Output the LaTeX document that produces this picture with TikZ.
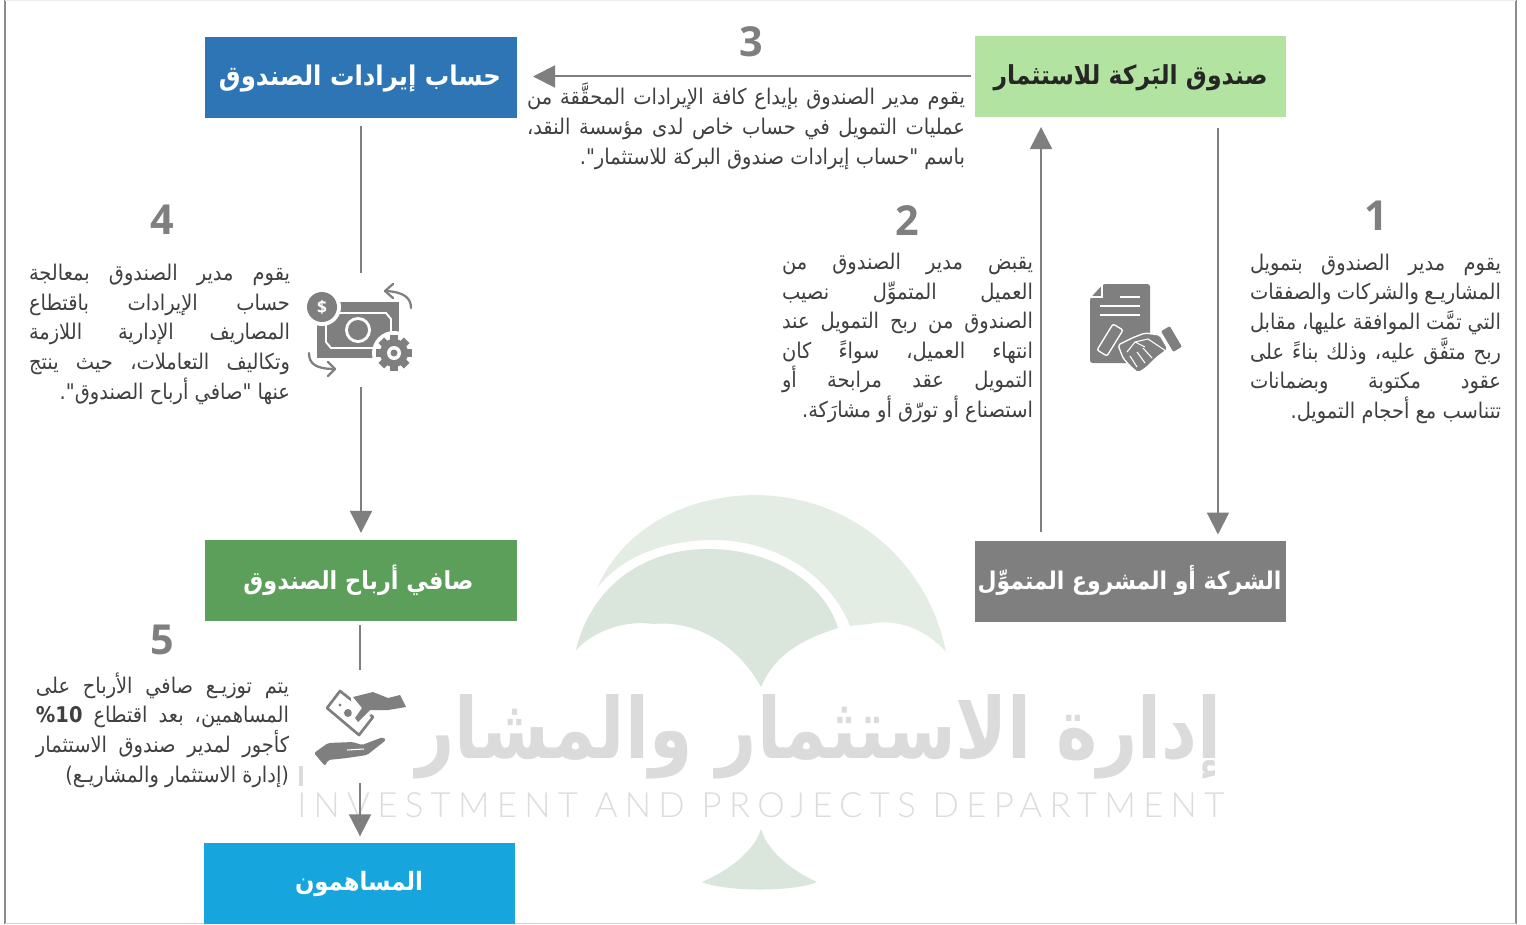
\documentclass[tikz,border=0pt]{standalone}
\usepackage{fontspec}
\usepackage{graphicx}
\usetikzlibrary{arrows.meta}
\TeXXeTstate=1
\newfontfamily\arf[Script=Arabic,FakeStretch=0.9]{DejaVu Sans}
\newfontfamily\numf{Open Sans}
\newfontfamily\enf[LetterSpace=21,UprightFont=* Light]{Lato}
\newlength\pxu \pxu=0.75pt
\definecolor{arrowgrey}{HTML}{7F7F7F}
\definecolor{bodytext}{HTML}{404040}
\definecolor{fundgreen}{HTML}{B3E3A1}
\definecolor{revblue}{HTML}{2E75B6}
\definecolor{netgreen}{HTML}{5B9F5B}
\definecolor{holdercyan}{HTML}{17A5DE}
\definecolor{leaflight}{HTML}{E3EDE3}
\definecolor{leafdark}{HTML}{DAE6DB}
\definecolor{markgrey}{HTML}{DBDBDB}
\definecolor{markthin}{HTML}{DCDCDC}
\definecolor{framegrey}{HTML}{8C8C8C}
\tikzset{
  flowbox/.style={minimum width=311*0.75pt,minimum height=81*0.75pt,inner sep=0pt,outer sep=0pt},
  boxtitle/.style={inner sep=0pt,outer sep=0pt,text=white},
  conn/.style={draw=arrowgrey,line width=1.5pt},
  arr/.style={conn,-{Triangle[length=16.5pt,width=16.5pt]}},
  txt/.style={text=bodytext,inner sep=0pt,outer sep=0pt,anchor=base east,font=\fontsize{16.2}{18}\selectfont},
  stepnum/.style={text=arrowgrey,inner sep=0pt,font=\numf\bfseries\fontsize{31}{32}\selectfont},
  holder/.style={inner sep=0pt,outer sep=0pt,minimum width=#1*0.75pt},
  handfill/.style={fill=arrowgrey,draw=white,line width=1pt,line join=round,rounded corners=1.5pt},
}
\newcommand{\jl}[5]{\node[txt] (#1) at (#2,#3) {\hbox to #4\pxu{\arf #5}};}
\newcommand{\rl}[4]{\node[txt] (#1) at (#2,#3) {\hbox{\arf #4}};}
\newcommand{\ttl}[2]{\resizebox{#1\pxu}{!}{\hbox{\arf\bfseries #2}}}
\begin{document}
\begin{tikzpicture}[x=0.75pt,y=-0.75pt]
\useasboundingbox (0,0) rectangle (1526,924);
\fill[white] (0,0) rectangle (1526,924);
% frame
\draw[framegrey,line width=1.1pt] (5,0) -- (5,924);
\draw[framegrey,line width=1.1pt] (1516,0) -- (1516,924);
\draw[gray!35,line width=0.8pt] (5,923.3) -- (1516,923.3);
\draw[gray!15,line width=0.6pt] (5,0.4) -- (1516,0.4);
% watermark tree
\fill[leaflight] (597,588) .. controls (625,525) and (690,495) .. (757,495)
  .. controls (860,497) and (930,570) .. (946,652)
  .. controls (925,628) and (895,618) .. (869,624)
  .. controls (860,625) and (855,625) .. (850,626)
  .. controls (830,575) and (775,540) .. (714,540)
  .. controls (670,540) and (625,553) .. (597,588) -- cycle;
\fill[leafdark] (576,650) .. controls (590,590) and (640,549) .. (708,549)
  .. controls (775,549) and (825,585) .. (838,628)
  .. controls (800,640) and (775,655) .. (761,687)
  .. controls (735,640) and (690,620) .. (654,624)
  .. controls (625,620) and (595,630) .. (576,650) -- cycle;
\fill[leafdark] (761,829) .. controls (755,850) and (730,870) .. (702,882)
  .. controls (725,892) and (795,892) .. (817,882)
  .. controls (790,870) and (767,850) .. (761,829) -- cycle;
\node[inner sep=0pt,text=markgrey] (markar) at (818,737) {\resizebox{807\pxu}{64\pxu}{\hbox{\arf\bfseries\beginR إدارة الاستثمار والمشار\endR}}};
\node[inner sep=0pt,text=markthin,anchor=base west] (marken) at (297,817) {\resizebox{927\pxu}{!}{\enf\fontsize{25}{26}\selectfont INVESTMENT AND PROJECTS DEPARTMENT}};
\fill[white] (303,688) rectangle (413,788);
\fill[markgrey] (299,766) rectangle (303,786);
% boxes
\node[flowbox,fill=fundgreen] (fund) at (1130.5,76.5) {};
\node[flowbox,fill=revblue,minimum width=312*0.75pt] (rev) at (361,77.5) {};
\node[flowbox,fill=netgreen,minimum width=312*0.75pt] (net) at (361,580) {};
\node[flowbox,fill=arrowgrey] (proj) at (1130.5,581) {};
\node[flowbox,fill=holdercyan] (holders) at (359.5,883.5) {};
\node[boxtitle,text=black!85] (fundt) at (1130.5,78) {\ttl{274}{\beginR صندوق البَركة للاستثمار\endR}};
\node[boxtitle] (revt) at (360,78.5) {\ttl{282}{\beginR حساب إيرادات الصندوق\endR}};
\node[boxtitle] (nett) at (358.5,580) {\ttl{230}{\beginR صافي أرباح الصندوق\endR}};
\node[boxtitle] (projt) at (1129.5,580) {\ttl{304}{\beginR الشركة أو المشروع المتموِّل\endR}};
\node[boxtitle] (holderst) at (359,884) {\ttl{128}{\beginR المساهمون\endR}};
% invisible holders for the icons
\node[holder=10,minimum height=114*0.75pt] (moneyicon) at (361,330) {};
\node[holder=10,minimum height=113*0.75pt] (handicon) at (360,726.5) {};
% connectors
\draw[arr,shorten <=3pt,shorten >=12pt] (fund.west) -- (fund.west -| rev.east);
\draw[arr,shorten <=8pt,shorten >=4.5pt] ([xshift=65.6pt]fund.south) -- ([xshift=65.6pt]proj.north);
\draw[arr,shorten <=6.5pt,shorten >=7.5pt] ([xshift=-67.1pt]proj.north) -- ([xshift=-67.1pt]fund.south);
\draw[conn,shorten <=6pt] (rev.south) -- (moneyicon.north);
\draw[arr,shorten >=5pt] (moneyicon.south) -- (net.north);
\draw[conn,shorten <=3.5pt] ([xshift=-0.75pt]net.south) -- (handicon.north);
\draw[arr,shorten >=5pt] (handicon.south) -- ([xshift=0.375pt]holders.north);
% step numbers
\node[stepnum] (n1) at (1376,216) {1};
\node[stepnum] (n2) at (907,221) {2};
\node[stepnum] (n3) at (751,42) {3};
\node[stepnum] (n4) at (162,220) {4};
\node[stepnum] (n5) at (162,640) {5};
% step 1
\jl{a1}{1501}{270}{251}{\beginR يقوم مدير الصندوق بتمويل\endR}
\jl{a2}{1501}{299}{251}{\beginR المشاريـع والشركات والصفقات\endR}
\jl{a3}{1501}{329}{251}{\beginR التي تمَّت الموافقة عليها، مقابل\endR}
\jl{a4}{1501}{359}{251}{\beginR ربح متفَّق عليه، وذلك بناءً على\endR}
\jl{a5}{1501}{388}{251}{\beginR عقود مكتوبة وبضمانات\endR}
\rl{a6}{1501}{418}{\beginR تتناسب مع أحجام التمويل.\endR}
% step 2
\jl{b1}{1033}{269}{251}{\beginR يقبض مدير الصندوق من\endR}
\jl{b2}{1033}{299}{251}{\beginR العميل المتموِّل نصيب\endR}
\jl{b3}{1033}{328}{251}{\beginR الصندوق من ربح التمويل عند\endR}
\jl{b4}{1033}{358}{251}{\beginR انتهاء العميل، سواءً كان\endR}
\jl{b5}{1033}{387}{251}{\beginR التمويل عقد مرابحة أو\endR}
\rl{b6}{1033}{417}{\beginR استصناع أو تورّق أو مشارَكة.\endR}
% step 3
\jl{c1}{965}{104}{438}{\beginR يقوم مدير الصندوق بإيداع كافة الإيرادات المحقَّقة من\endR}
\jl{c2}{965}{134}{438}{\beginR عمليات التمويل في حساب خاص لدى مؤسسة النقد،\endR}
\rl{c3}{965}{164}{\beginR باسم "حساب إيرادات صندوق البركة للاستثمار".\endR}
% step 4
\jl{d1}{290}{280}{261}{\beginR يقوم مدير الصندوق بمعالجة\endR}
\jl{d2}{290}{310}{261}{\beginR حساب الإيرادات باقتطاع\endR}
\jl{d3}{290}{339}{261}{\beginR المصاريف الإدارية اللازمة\endR}
\jl{d4}{290}{369}{261}{\beginR وتكاليف التعاملات، حيث ينتج\endR}
\rl{d5}{290}{399}{\beginR عنها "صافي أرباح الصندوق".\endR}
% step 5
\jl{e1}{289}{693}{253}{\beginR يتم توزيـع صافي الأرباح على\endR}
\jl{e2}{289}{722}{253}{\beginR المساهمين، بعد اقتطاع \beginL\textbf{\%10}\endL\endR}
\jl{e3}{289}{752}{253}{\beginR كأجور لمدير صندوق الاستثمار\endR}
\rl{e4}{289}{782}{\beginR (إدارة الاستثمار والمشاريـع)\endR}
% money icon
\fill[arrowgrey] (317,302) rectangle (399,358);
\draw[white,line width=1.4pt] (331,313) -- (386,313) -- (391,319) -- (391,342) -- (386,348) -- (331,348) -- (326,342) -- (326,319) -- cycle;
\fill[white] (358,330) circle[radius=13];
\fill[arrowgrey] (358,330) circle[radius=10];
\fill[white] (322,307) circle[radius=19];
\fill[arrowgrey] (322,307) circle[radius=15];
\node[inner sep=0pt,text=white,font=\numf\bfseries\fontsize{13}{14}\selectfont] (dollar) at (322,307) {\$};
\fill[white] (394,353) circle[radius=22];
\foreach \a in {0,45,...,315}
  \fill[arrowgrey,rotate around={\a:(394,353)}] (390,335) rectangle (398,343);
\fill[arrowgrey] (394,353) circle[radius=14];
\fill[white] (394,353) circle[radius=7];
\fill[arrowgrey] (394,353) circle[radius=3.5];
\draw[arrowgrey,line width=1.7pt,line cap=round,line join=round] (411,308) .. controls (411,298) and (404,292) .. (386,291);
\draw[arrowgrey,line width=1.7pt,line cap=round,line join=round] (393,284) -- (385,291) -- (393,298);
\draw[arrowgrey,line width=1.7pt,line cap=round,line join=round] (309,353) .. controls (309,364) and (316,369) .. (335,369);
\draw[arrowgrey,line width=1.7pt,line cap=round,line join=round] (328,362) -- (335,369) -- (328,376);
% contract icon
\fill[arrowgrey,rounded corners=2pt] (1103,284) -- (1150,284) -- (1150,363) -- (1090,363) -- (1090,298) -- cycle;
\fill[white] (1103,284) -- (1090,284) -- (1090,298) -- cycle;
\draw[white,line width=0.9pt] (1102,285) -- (1102,297) -- (1091,297);
\draw[white,line width=1pt] (1120,297) -- (1140,297) (1100,306) -- (1140,306) (1100,315) -- (1140,315);
\path[handfill] (1123,330) -- (1113,324) -- (1097,350) -- (1107,356) -- cycle;
\path[handfill] (1170,325) -- (1183,347) -- (1173,353) -- (1160,331) -- cycle;
\path[handfill] (1118,345) -- (1132,338) -- (1145,333) -- (1160,335) -- (1168,349) -- (1156,358) -- (1146,368) -- (1138,373) -- (1130,366) -- (1123,358) -- cycle;
\draw[white,line width=0.8pt] (1127,352) -- (1135,342) -- (1148,339) -- (1166,351) (1135,342) -- (1145,347);
\draw[white,line width=0.8pt] (1130,356) -- (1137,367) (1137,352) -- (1145,363) (1143,348) -- (1152,358);
% hand icon
\fill[white] (345,685) -- (321,708) -- (360,742) -- (380,718) -- cycle;
\draw[arrowgrey,line width=2pt,line join=round] (340,691) -- (327,708) -- (359,735) -- (373,717) -- cycle;
\fill[arrowgrey] (348,713) circle[radius=4];
\fill[arrowgrey] (340,705) circle[radius=1.7];
\fill[white] (351,695) -- (373,689) -- (388,695) -- (402,691) -- (409,709) -- (388,713) -- (372,713) -- (359,727) -- (352,720) -- cycle;
\fill[arrowgrey,line join=round] (353,697) -- (373,692) -- (388,698) -- (400,695) -- (406,707) -- (388,710) -- (370,710) -- (358,722) -- (355,718) -- (362,708) -- cycle;
\fill[arrowgrey,rounded corners=1.5pt] (314,753) -- (328,743) -- (353,742) -- (362,745) -- (383,737) -- (386,740) -- (367,755) -- (347,758) -- (328,760) -- (325,766) -- cycle;
\draw[white,line width=0.8pt] (347,750) -- (364,749);
\end{tikzpicture}
\end{document}
